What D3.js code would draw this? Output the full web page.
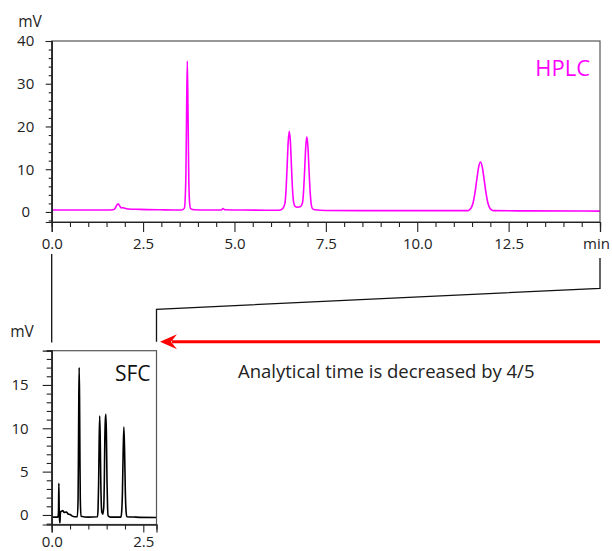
<!DOCTYPE html>
<html>
<head>
<meta charset="utf-8">
<script src="https://cdn.jsdelivr.net/npm/d3@7"></script>
<style>
  html, body { margin: 0; padding: 0; background: #fff; }
  svg { display: block; font-family: "Segoe UI", "Open Sans", "Noto Sans", sans-serif; }
</style>
</head>
<body>
<div id="chart"></div>
<script>
// HPLC trace, [time (min), signal (mV)]
const hplcTrace = [
  [0, 0.45], [0.5, 0.45], [1.0, 0.45], [1.5, 0.45], [1.68, 0.5], [1.74, 0.9], [1.78, 1.6],
  [1.82, 1.9], [1.86, 1.4], [1.9, 0.95], [1.95, 1.0], [2.0, 0.85], [2.1, 0.7], [2.4, 0.6],
  [3.0, 0.5], [3.55, 0.45], [3.63, 0.9], [3.67, 8], [3.69, 23], [3.71, 35.3], [3.73, 23],
  [3.75, 8], [3.77, 2.4], [3.8, 0.8], [3.9, 0.5], [4.3, 0.45], [4.64, 0.45], [4.69, 0.8],
  [4.74, 0.5], [5.2, 0.45], [6.2, 0.4], [6.32, 0.8], [6.38, 2], [6.41, 5], [6.44, 10.5],
  [6.47, 16.4], [6.5, 18.9], [6.53, 16.4], [6.56, 10.5], [6.59, 5], [6.62, 2.2], [6.66, 1.3],
  [6.72, 1.1], [6.8, 1.2], [6.86, 2.1], [6.89, 4.8], [6.92, 9.8], [6.95, 15.2], [6.98, 17.6],
  [7.01, 15.2], [7.04, 9.8], [7.07, 4.7], [7.1, 1.8], [7.13, 0.8], [7.2, 0.5], [7.5, 0.35],
  [9.0, 0.3], [11.38, 0.32], [11.43, 0.5], [11.48, 1.0], [11.53, 2.2], [11.58, 4.5],
  [11.63, 7.6], [11.68, 10.5], [11.73, 11.7], [11.78, 10.5], [11.83, 7.6], [11.88, 4.5],
  [11.93, 2.2], [11.98, 1.0], [12.03, 0.5], [12.1, 0.3], [13.0, 0.25], [15.0, 0.2]
];

// SFC trace, [time (min), signal (mV)]
const sfcTrace = [
  [0, -0.25], [0.17, -0.25], [0.185, 0.3], [0.195, 3.65], [0.205, 0.5], [0.215, -0.9],
  [0.225, -0.9], [0.235, 0.1], [0.25, 0.4], [0.28, 0.45], [0.3, 0.5], [0.34, 0.3],
  [0.4, 0.35], [0.45, 0.1], [0.5, 0.05], [0.55, -0.1], [0.62, -0.2], [0.7, -0.2],
  [0.72, 1.9], [0.73, 7], [0.74, 13.6], [0.75, 17], [0.76, 13.6], [0.77, 7], [0.78, 1.9],
  [0.8, -0.15], [1.0, -0.25], [1.25, -0.2], [1.265, 0.7], [1.28, 3.5], [1.295, 8.5],
  [1.31, 11.4], [1.325, 8.6], [1.34, 3.8], [1.355, 1.1], [1.37, 0.3], [1.395, 0.1],
  [1.42, 0.9], [1.435, 3.7], [1.45, 8.7], [1.465, 11.0], [1.48, 11.6], [1.495, 8.7],
  [1.51, 3.7], [1.525, 0.9], [1.54, -0.1], [1.6, -0.25], [1.89, -0.25], [1.91, 0.4],
  [1.93, 2.6], [1.95, 7.2], [1.97, 10.15], [1.99, 7.2], [2.01, 2.6], [2.03, 0.4],
  [2.05, -0.2], [2.3, -0.25], [2.86, -0.3]
];

const hplcXTicks = [0, 2.5, 5, 7.5, 10, 12.5, 15];
const hplcXLabels = ["0.0", "2.5", "5.0", "7.5", "10.0", "12.5", "min"];
const hplcYTicks = [0, 10, 20, 30, 40];
const sfcXTicks = [0, 2.5];
const sfcXLabels = ["0.0", "2.5"];
const sfcYTicks = [0, 5, 10, 15];

const width = 612, height = 551;
const ink = "#222";
const fontStack = "'Segoe UI', 'Open Sans', 'Noto Sans', sans-serif";

const svg = d3.select("#chart").append("svg")
  .attr("width", width)
  .attr("height", height);

// scales
const xTop = d3.scaleLinear().domain([0, 15]).range([51.7, 600]);
const yTop = d3.scaleLinear().domain([-2.35, 40]).range([222, 41]);
const xBot = d3.scaleLinear().domain([0, 2.86]).range([51.7, 156.5]);
const yBot = d3.scaleLinear().domain([-1.1, 18.95]).range([524.5, 350.7]);

function drawPanel(x, y, opts) {
  const [x0, x1] = x.range();
  const [yb, yt] = y.range();
  const g = svg.append("g");

  const clipId = "clip-" + opts.name;
  svg.append("clipPath").attr("id", clipId)
    .append("rect")
    .attr("x", x0).attr("y", yt)
    .attr("width", x1 - x0).attr("height", yb - yt);

  // trace
  const line = d3.line()
    .x(d => x(d[0]))
    .y(d => y(d[1]))
    .curve(d3.curveMonotoneX);
  g.append("path")
    .datum(opts.data)
    .attr("clip-path", `url(#${clipId})`)
    .attr("fill", "none")
    .attr("stroke", opts.color)
    .attr("stroke-width", 1.6)
    .attr("stroke-linejoin", "round")
    .attr("d", line);

  // frame
  g.append("rect")
    .attr("x", x0).attr("y", yt)
    .attr("width", x1 - x0).attr("height", yb - yt)
    .attr("fill", "none")
    .attr("stroke", "#555")
    .attr("stroke-width", 1.2);

  // x axis: major + minor ticks
  const xAxis = d3.axisBottom(x)
    .tickValues(opts.xTicks)
    .tickSize(opts.xMajor)
    .tickPadding(opts.xPad)
    .tickFormat((d, i) => opts.xLabels[i]);
  const xMinor = d3.axisBottom(x)
    .tickValues(d3.range(0, x.domain()[1] + 0.001, 0.5).filter(v => !opts.xTicks.includes(v)))
    .tickSize(opts.xMinorLen)
    .tickFormat("");
  const gx = g.append("g").attr("transform", `translate(0,${yb})`).call(xAxis);
  const gxm = g.append("g").attr("transform", `translate(0,${yb})`).call(xMinor);

  // y axis
  const yAxis = d3.axisLeft(y)
    .tickValues(opts.yTicks)
    .tickSize(opts.yMajor)
    .tickPadding(opts.yPad)
    .tickFormat(d3.format("d"));
  const yMinor = d3.axisLeft(y)
    .tickValues(opts.yMinorTicks)
    .tickSize(opts.yMinorLen)
    .tickFormat("");
  const gy = g.append("g").attr("transform", `translate(${x0},0)`).call(yAxis);
  const gym = g.append("g").attr("transform", `translate(${x0},0)`).call(yMinor);

  [gx, gxm, gy, gym].forEach(a => {
    a.select(".domain").attr("stroke", ink).attr("stroke-width", 1.2);
    a.selectAll(".tick line").attr("stroke", ink).attr("stroke-width", 1.1);
    a.selectAll("text").attr("fill", ink).style("font-size", "15px")
      .style("font-family", fontStack);
  });
  gy.selectAll("text").attr("text-anchor", opts.yAnchor).attr("dx", opts.yDx);
  // last time label sits against the right edge of the page
  gx.selectAll(".tick text").filter(d => d === 15).attr("dx", -4);

  // unit label
  g.append("text")
    .attr("x", opts.unitX).attr("y", yt - 14)
    .attr("text-anchor", "middle")
    .attr("fill", ink)
    .style("font-size", "15.5px")
    .text("mV");

  // panel title
  g.append("text")
    .attr("x", x1 - opts.titleInset).attr("y", yt + opts.titleY)
    .attr("text-anchor", "end")
    .attr("fill", opts.titleColor)
    .style("font-size", opts.titleSize)
    .text(opts.title);
}

drawPanel(xTop, yTop, {
  name: "hplc", data: hplcTrace, color: "#ff00ff",
  xTicks: hplcXTicks, xLabels: hplcXLabels, xMajor: 10, xMinorLen: 5, xPad: 6,
  yTicks: hplcYTicks, yMinorTicks: d3.range(-2, 41, 2).filter(v => v % 10 !== 0),
  yMajor: 6, yMinorLen: 3, yPad: 8, yAnchor: "middle", yDx: -12,
  unitX: 30, title: "HPLC", titleColor: "#ff00ff", titleSize: "22px", titleInset: 10, titleY: 35
});

drawPanel(xBot, yBot, {
  name: "sfc", data: sfcTrace, color: "#000",
  xTicks: sfcXTicks, xLabels: sfcXLabels, xMajor: 8, xMinorLen: 5, xPad: 4,
  yTicks: sfcYTicks, yMinorTicks: d3.range(-1, 19.5, 1).filter(v => v % 5 !== 0),
  yMajor: 9, yMinorLen: 5, yPad: 14, yAnchor: "end", yDx: 0,
  unitX: 22, title: "SFC", titleColor: "#111", titleSize: "21px", titleInset: 6, titleY: 30
});

// zoom connectors between the two time axes
const conn = svg.append("g")
  .attr("fill", "none")
  .attr("stroke", "#111")
  .attr("stroke-width", 1.3);
conn.append("line")
  .attr("x1", xTop(0)).attr("x2", xTop(0))
  .attr("y1", 254).attr("y2", 342.5);
conn.append("path")
  .attr("d", `M${xTop(15)},258 L${xTop(15)},288.3 L${xBot(2.86)},309.3 L${xBot(2.86)},341.7`);

// red arrow
const arrowY = 341.7;
svg.append("line")
  .attr("x1", 600).attr("x2", 172)
  .attr("y1", arrowY).attr("y2", arrowY)
  .attr("stroke", "#ff0000")
  .attr("stroke-width", 3);
svg.append("path")
  .attr("d", `M160,${arrowY} L177,${arrowY - 7.5} L171,${arrowY} L177,${arrowY + 7.5} Z`)
  .attr("fill", "#ff0000");

svg.append("text")
  .attr("x", 238).attr("y", 378)
  .attr("fill", ink)
  .style("font-size", "18.5px")
  .text("Analytical time is decreased by 4/5");
</script>
</body>
</html>
